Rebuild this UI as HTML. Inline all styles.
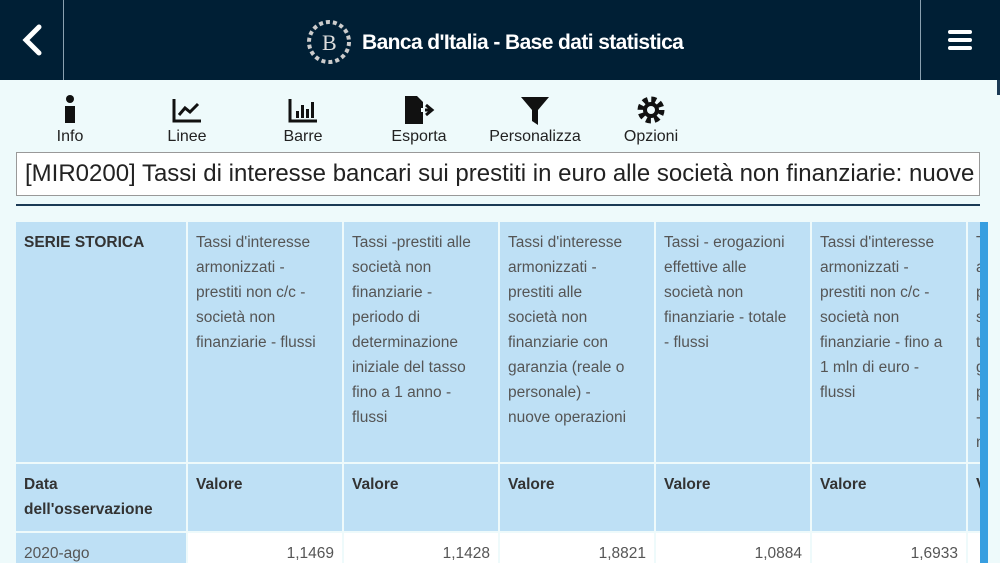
<!DOCTYPE html>
<html><head><meta charset="utf-8"><style>
*{margin:0;padding:0;box-sizing:border-box}
body{width:1000px;height:563px;overflow:hidden;background:#eefafb;font-family:"Liberation Sans",sans-serif;position:relative}
.hdr{position:absolute;left:0;top:0;width:1000px;height:80px;background:#001f35}
.vl{position:absolute;top:0;width:1px;height:80px;background:#8aa0b0}
.ttl{position:absolute;left:362px;top:31px;color:#fff;font-size:21px;font-weight:bold;letter-spacing:-0.6px}
.tb{position:absolute;top:95px;text-align:center;font-size:16px;color:#222}
.tb .lab{position:absolute;top:33px;left:-50px;width:100px;text-align:center}
.box{position:absolute;left:16px;top:152px;width:964px;height:44px;background:#fff;border:1px solid #999;font-size:24px;color:#222;padding:7px 8px;white-space:nowrap;overflow:hidden}
.c{position:absolute;background:#bee0f5;color:#555;line-height:25px;padding:8px 8px;font-family:"Liberation Sans",sans-serif;font-size:15.5px;white-space:nowrap;overflow:hidden}
.b{font-weight:bold;color:#333}
.w{background:#fff;text-align:right}
</style></head><body>
<div class="hdr"></div>
<div class="vl" style="left:63px"></div>
<div class="vl" style="left:920px"></div>
<svg style="position:absolute;left:20px;top:24px" width="24" height="32"><path d="M19 3 L6 16 L19 29" stroke="#fff" stroke-width="5" fill="none" stroke-linecap="round"/></svg>
<svg style="position:absolute;left:948px;top:30px" width="26" height="22"><rect y="0" width="24" height="4" rx="2" fill="#fff"/><rect y="8" width="24" height="4" rx="2" fill="#fff"/><rect y="16" width="24" height="4" rx="2" fill="#fff"/></svg>
<svg style="position:absolute;left:306px;top:18px" width="46" height="48"><circle cx="23" cy="24" r="20" fill="none" stroke="#ccc" stroke-width="4" stroke-dasharray="4 3"/><text x="16" y="32" fill="#ddd" font-size="22" font-family="Liberation Serif">B</text></svg>
<div class="ttl">Banca d'Italia - Base dati statistica</div>

<div class="tb" style="left:70px"><svg style="position:absolute;left:-6px;top:0" width="12" height="30"><circle cx="6" cy="4" r="4" fill="#111"/><rect x="1" y="11" width="10" height="17" fill="#111"/></svg><div class="lab">Info</div></div>
<div class="tb" style="left:187px"><svg style="position:absolute;left:-15px;top:3px" width="30" height="26"><path d="M2 1 V23 H29" stroke="#111" stroke-width="3" fill="none"/><path d="M7 17 L13 10 L18 14 L26 6" stroke="#111" stroke-width="3" fill="none"/></svg><div class="lab">Linee</div></div>
<div class="tb" style="left:303px"><svg style="position:absolute;left:-15px;top:3px" width="30" height="26"><path d="M2 1 V23 H29" stroke="#111" stroke-width="3" fill="none"/><rect x="8" y="13" width="3" height="7" fill="#111"/><rect x="13" y="7" width="3" height="13" fill="#111"/><rect x="18" y="11" width="3" height="9" fill="#111"/><rect x="23" y="4" width="3" height="16" fill="#111"/></svg><div class="lab">Barre</div></div>
<div class="tb" style="left:419px"><svg style="position:absolute;left:-16px;top:0" width="34" height="30"><path d="M2 1 H14 L20 7 V29 H2 Z" fill="#111"/><path d="M16 15 H28 M23 10 L29 15 L23 20" stroke="#111" stroke-width="3" fill="none"/><rect x="18" y="13" width="4" height="4" fill="#eefafb"/></svg><div class="lab">Esporta</div></div>
<div class="tb" style="left:535px"><svg style="position:absolute;left:-15px;top:1px" width="30" height="30"><path d="M1 1 H29 L18 14 V29 L12 25 V14 Z" fill="#111"/></svg><div class="lab">Personalizza</div></div>
<div class="tb" style="left:651px"><svg style="position:absolute;left:-14px;top:1px" width="28" height="28"><circle cx="14" cy="14" r="10" fill="none" stroke="#111" stroke-width="7" stroke-dasharray="4.5 3.35"/><circle cx="14" cy="14" r="8" fill="#111"/><circle cx="14" cy="14" r="4" fill="#eefafb"/></svg><div class="lab">Opzioni</div></div>

<div class="box">[MIR0200] Tassi di interesse bancari sui prestiti in euro alle società non finanziarie: nuove operazioni</div>
<div style="position:absolute;left:16px;top:204px;width:964px;height:2px;background:#1b3a55"></div>

<div style="position:absolute;left:16px;top:222px;width:964px;height:341px;overflow:hidden">
<div class="c b" style="left:0;top:0;width:170px;height:240px">SERIE STORICA</div>
<div class="c" style="left:172px;top:0;width:154px;height:240px">Tassi d'interesse<br>armonizzati -<br>prestiti non c/c -<br>società non<br>finanziarie - flussi</div>
<div class="c" style="left:328px;top:0;width:154px;height:240px">Tassi -prestiti alle<br>società non<br>finanziarie -<br>periodo di<br>determinazione<br>iniziale del tasso<br>fino a 1 anno -<br>flussi</div>
<div class="c" style="left:484px;top:0;width:154px;height:240px">Tassi d'interesse<br>armonizzati -<br>prestiti alle<br>società non<br>finanziarie con<br>garanzia (reale o<br>personale) -<br>nuove operazioni</div>
<div class="c" style="left:640px;top:0;width:154px;height:240px">Tassi - erogazioni<br>effettive alle<br>società non<br>finanziarie - totale<br>- flussi</div>
<div class="c" style="left:796px;top:0;width:154px;height:240px">Tassi d'interesse<br>armonizzati -<br>prestiti non c/c -<br>società non<br>finanziarie - fino a<br>1 mln di euro -<br>flussi</div>
<div class="c" style="left:952px;top:0;width:154px;height:240px">Tassi d'interesse<br>armonizzati -<br>prestiti<br>società<br>t<br>g<br>p<br>-<br>n</div>
<div class="c b" style="left:0;top:242px;width:170px;height:67px">Data<br>dell'osservazione</div>
<div class="c b" style="left:172px;top:242px;width:154px;height:67px">Valore</div>
<div class="c b" style="left:328px;top:242px;width:154px;height:67px">Valore</div>
<div class="c b" style="left:484px;top:242px;width:154px;height:67px">Valore</div>
<div class="c b" style="left:640px;top:242px;width:154px;height:67px">Valore</div>
<div class="c b" style="left:796px;top:242px;width:154px;height:67px">Valore</div>
<div class="c b" style="left:952px;top:242px;width:154px;height:67px">Valore</div>
<div class="c" style="left:0;top:311px;width:170px;height:40px">2020-ago</div>
<div class="c w" style="left:172px;top:311px;width:154px;height:40px">1,1469</div>
<div class="c w" style="left:328px;top:311px;width:154px;height:40px">1,1428</div>
<div class="c w" style="left:484px;top:311px;width:154px;height:40px">1,8821</div>
<div class="c w" style="left:640px;top:311px;width:154px;height:40px">1,0884</div>
<div class="c w" style="left:796px;top:311px;width:154px;height:40px">1,6933</div>
<div class="c w" style="left:952px;top:311px;width:154px;height:40px">1,5</div>
</div>
<div style="position:absolute;left:980px;top:222px;width:8px;height:341px;background:#379ee0"></div>
<div style="position:absolute;left:997px;top:80px;width:3px;height:15px;background:#1b3a55"></div>
</body></html>
